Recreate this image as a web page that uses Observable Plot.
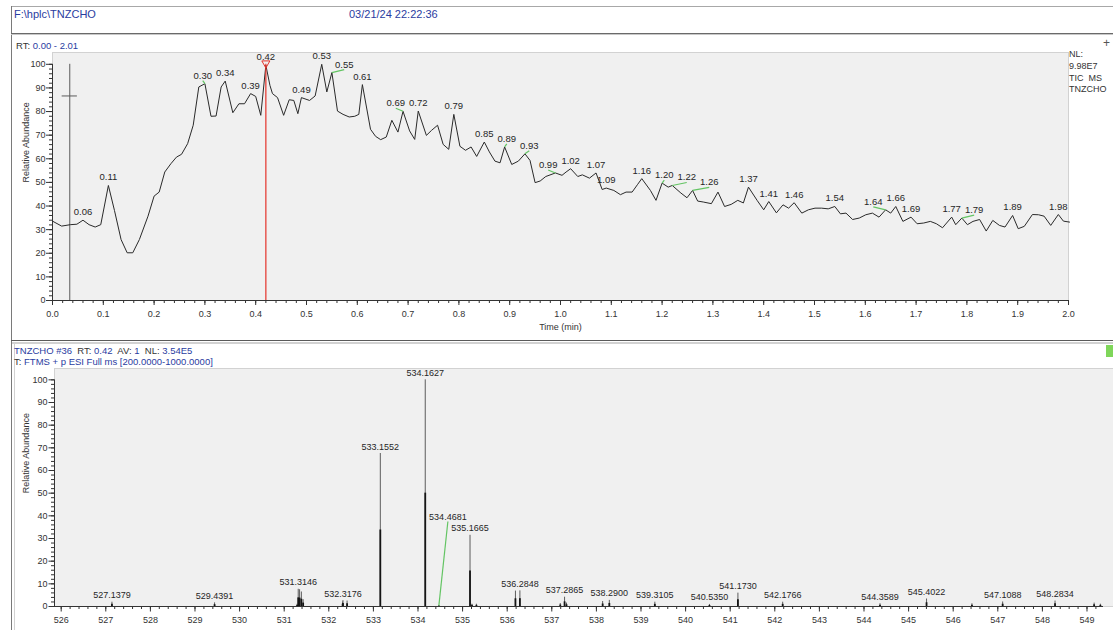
<!DOCTYPE html>
<html>
<head>
<meta charset="utf-8">
<script src="https://cdn.jsdelivr.net/npm/d3@7"></script>
<script src="https://cdn.jsdelivr.net/npm/@observablehq/plot@0.6"></script>
<style>
  html, body { margin: 0; padding: 0; background: #fff; }
  #page { position: relative; width: 1113px; height: 630px; overflow: hidden;
          font-family: "Liberation Sans", Arial, sans-serif; color: #333; }
  #page svg { position: absolute; left: 0; }
  .txt { position: absolute; white-space: pre; line-height: 1; color: #333; }
  .blue { color: #2a3c9f; }
  .rule { position: absolute; }
</style>
</head>
<body>
<div id="page">
  <!-- window frame -->
  <div class="rule" style="left:11px;top:6px;width:1102px;height:1px;background:#a8a8a8"></div>
  <div class="rule" style="left:11px;top:6px;width:1px;height:624px;background:#7a7a7a"></div>
  <div class="rule" style="left:11px;top:33px;width:1102px;height:1px;background:#6a6a6a"></div>
  <div class="rule" style="left:11px;top:34px;width:1102px;height:1px;background:#c8c8c8"></div>
  <div class="rule" style="left:11px;top:340px;width:1102px;height:1px;background:#5a5a5a"></div>
  <div class="rule" style="left:12px;top:342px;width:1101px;height:2px;background:#d2d2d2"></div>
  <div class="rule" style="left:14px;top:344px;width:1px;height:286px;background:#d2d2d2"></div>

  <!-- headers -->
  <div class="txt blue" style="left:14px;top:9px;font-size:11px">F:\hplc\TNZCHO</div>
  <div class="txt blue" style="left:349px;top:9px;font-size:11px">03/21/24 22:22:36</div>
  <div class="txt" style="left:16px;top:40.5px;font-size:9.5px">RT: <span class="blue">0.00 - 2.01</span></div>
  <div class="txt" style="left:1069px;top:49px;font-size:9px;line-height:11.8px">NL:
9.98E7
TIC  MS
TNZCHO</div>
  <div class="txt" style="left:1103px;top:37px;font-size:12px;color:#555">+</div>

  <div class="txt" style="left:14px;top:346px;font-size:9.5px"><span class="blue">TNZCHO #36</span>  RT: <span class="blue">0.42</span>  AV: <span class="blue">1</span>  NL: <span class="blue">3.54E5</span></div>
  <div class="txt" style="left:14px;top:357px;font-size:9.5px">T: <span class="blue">FTMS + p ESI Full ms [200.0000-1000.0000]</span></div>
  <div class="rule" style="left:1106px;top:345px;width:7px;height:12px;background:#7fd65a"></div>
</div>

<script>
// ---------------- Total ion chromatogram ----------------
const rtMin = [
  0.000, 0.018, 0.035, 0.048, 0.060, 0.072, 0.084, 0.095, 0.110, 0.122,
  0.135, 0.147, 0.158, 0.171, 0.188, 0.200, 0.210, 0.221, 0.233, 0.244,
  0.254, 0.266, 0.277, 0.288, 0.300, 0.312, 0.322, 0.332, 0.340, 0.355,
  0.367, 0.378, 0.390, 0.400, 0.410, 0.420, 0.428, 0.433, 0.443, 0.455,
  0.466, 0.475, 0.483, 0.490, 0.506, 0.517, 0.530, 0.540, 0.550, 0.561,
  0.572, 0.584, 0.595, 0.603, 0.610, 0.626, 0.636, 0.646, 0.657, 0.668,
  0.680, 0.690, 0.703, 0.713, 0.720, 0.736, 0.746, 0.758, 0.769, 0.780,
  0.790, 0.802, 0.813, 0.824, 0.835, 0.850, 0.860, 0.871, 0.881, 0.890,
  0.904, 0.917, 0.930, 0.940, 0.950, 0.960, 0.971, 0.990, 1.003, 1.011,
  1.020, 1.034, 1.043, 1.057, 1.070, 1.082, 1.090, 1.105, 1.118, 1.129,
  1.141, 1.152, 1.160, 1.177, 1.188, 1.200, 1.212, 1.220, 1.237, 1.249,
  1.260, 1.270, 1.281, 1.297, 1.310, 1.323, 1.336, 1.349, 1.360, 1.370,
  1.387, 1.400, 1.410, 1.425, 1.438, 1.449, 1.460, 1.475, 1.488, 1.501,
  1.514, 1.527, 1.540, 1.551, 1.562, 1.575, 1.588, 1.601, 1.614, 1.627,
  1.640, 1.650, 1.660, 1.674, 1.690, 1.702, 1.715, 1.728, 1.740, 1.752,
  1.770, 1.778, 1.790, 1.801, 1.812, 1.825, 1.838, 1.851, 1.864, 1.875,
  1.890, 1.901, 1.913, 1.929, 1.941, 1.952, 1.965, 1.980, 1.990, 2.002
];
const ticRelAbundance = [
  33.6, 31.5, 32.1, 32.3, 34.0, 32.1, 31.1, 32.1, 48.7, 38.1,
  25.8, 20.2, 20.2, 25.8, 35.7, 44.2, 45.9, 54.4, 57.9, 60.7,
  61.9, 66.4, 74.2, 90.4, 91.8, 78.0, 78.1, 90.4, 92.9, 79.5,
  83.3, 83.3, 87.6, 86.4, 78.4, 99.6, 91.1, 87.6, 85.9, 78.4,
  85.0, 84.7, 79.1, 85.9, 84.7, 86.6, 100.0, 88.3, 96.5, 80.2,
  78.8, 77.7, 78.0, 78.8, 91.4, 72.5, 69.5, 68.1, 69.2, 76.3,
  71.3, 80.1, 71.8, 68.2, 80.2, 69.9, 72.0, 74.2, 66.1, 64.0,
  78.8, 65.3, 63.6, 65.0, 61.0, 67.1, 62.9, 59.0, 58.3, 65.0,
  57.6, 59.0, 62.1, 59.3, 49.9, 50.6, 52.5, 54.0, 53.0, 54.4,
  55.8, 52.5, 53.2, 51.8, 54.0, 47.0, 47.6, 46.6, 44.8, 45.9,
  45.9, 49.2, 51.6, 46.6, 42.4, 49.7, 48.0, 48.7, 45.5, 43.5,
  46.6, 42.1, 41.7, 41.0, 45.9, 39.8, 40.7, 42.4, 41.3, 48.0,
  42.4, 38.4, 41.9, 37.1, 40.5, 39.1, 41.4, 37.0, 38.4, 39.1,
  39.1, 38.8, 39.8, 36.7, 37.0, 34.3, 34.9, 36.3, 37.0, 35.3,
  38.4, 37.0, 39.8, 33.5, 35.3, 32.5, 32.8, 33.5, 32.5, 30.8,
  35.3, 32.1, 34.9, 32.1, 33.5, 34.3, 29.4, 33.9, 31.8, 31.1,
  36.0, 30.4, 31.4, 36.4, 36.3, 35.7, 31.8, 36.4, 33.6, 33.2
];
// retention times of the annotated apexes
const labeledRT = [
  0.06, 0.11, 0.30, 0.34, 0.39, 0.42, 0.49, 0.53, 0.55, 0.61,
  0.69, 0.72, 0.79, 0.85, 0.89, 0.93, 0.99, 1.02, 1.07, 1.09,
  1.16, 1.20, 1.22, 1.26, 1.37, 1.41, 1.46, 1.54, 1.64, 1.66,
  1.69, 1.77, 1.79, 1.89, 1.98
];
const selectedRT = 0.42;                 // scan shown in the spectrum below
const cursorRT = 0.034, cursorLevel = 86.6, cursorHalfWidth = 0.015;
const rtDomain = [0, 2.0];
const rtMajorTicks = d3.range(0, 21).map(i => i / 10);
const rtMinorTicks = d3.range(0, 101).map(i => i / 50);
const abundanceTicks = d3.range(0, 101, 10);
const abundanceMinorTicks = d3.range(0, 101, 2);
const abundanceDomain = [0, 105];

// ---------------- Mass spectrum, scan #36 ----------------
const mz = [
  527.1379, 529.4391, 531.2900, 531.3146, 531.3450, 531.3850, 531.4250,
  532.3100, 532.3176, 532.4100, 533.1552, 534.1627, 534.4681, 535.1665,
  535.2100, 535.3100, 536.1850, 536.2848, 537.1900, 537.2865, 537.3300,
  538.1400, 538.2900, 539.3105, 540.5350, 541.1730, 542.1766, 544.3589,
  545.4022, 546.4200, 547.1088, 548.2834, 549.1600, 549.3000
];
const msRelAbundance = [
  1.9, 1.6, 1.0, 7.6, 7.4, 6.4, 3.0,
  2.0, 2.6, 2.4, 67.5, 100.0, 0.4, 31.4,
  1.0, 1.0, 6.8, 6.9, 1.3, 4.1, 1.5,
  2.2, 2.7, 1.9, 0.9, 5.9, 1.9, 1.2,
  3.3, 1.2, 2.0, 2.4, 1.5, 1.0
];
const labeledMz = [
  527.1379, 529.4391, 531.3146, 532.3176, 533.1552, 534.1627, 535.1665,
  536.2848, 537.2865, 538.2900, 539.3105, 540.5350, 541.1730, 542.1766,
  544.3589, 545.4022, 547.1088, 548.2834
];
// small peak whose label sits up and to the right on a leader line
const leaderMz = 534.4681, leaderLabelMz = 534.67, leaderLabelLevel = 37.5;
const mzDomain = [525.85, 549.37];
const mzMajorTicks = d3.range(526, 550);
const mzMinorTicks = d3.range(0, 117).map(i => 526 + i / 5);

// ---------------- helpers ----------------
const W = 1113;
const font = "'Liberation Sans', Arial, sans-serif";
const ink = "#333";
const leaderGreen = "#63c463";
const fmtRT = d3.format(".2f"), fmtMz = d3.format(".4f");

// Spread labels that would collide: taller peaks keep their place,
// lower ones slide sideways away from the neighbour they hit.
function placeLabels(items, sx, sy, fontSize, gap) {
  const adv = c => (c === "." ? 0.278 : 0.556) * fontSize;
  const boxes = items.map(d => ({
    ...d, px: sx.apply(d.x), py: sy.apply(d.y),
    w: Array.from(d.text).reduce((s, c) => s + adv(c), 0)
  }));
  boxes.forEach(b => (b.cx = b.px));
  const placed = [];
  for (const b of [...boxes].sort((a, c) => c.y - a.y)) {
    for (let k = 0; k < 8; k++) {
      const hit = placed.find(p => Math.abs(p.py - b.py) < fontSize + 1 &&
        Math.abs(p.cx - b.cx) < (p.w + b.w) / 2 + gap);
      if (!hit) break;
      const dir = b.px >= hit.px ? 1 : -1;
      b.cx = hit.cx + dir * ((hit.w + b.w) / 2 + gap);
    }
    placed.push(b);
  }
  return boxes.map(b => ({
    ...b, lx: sx.invert(b.cx), ly: sy.invert(b.py - 3),
    leader: Math.abs(b.cx - b.px) > 2
  }));
}

const page = document.getElementById("page");

// ---------------- chromatogram panel ----------------
{
  const m = {top: 52, right: 45, bottom: 40, left: 52}, H = 340;
  const sx = Plot.scale({x: {domain: rtDomain, range: [m.left, W - m.right]}});
  const sy = Plot.scale({y: {domain: abundanceDomain, range: [H - m.bottom, m.top]}});
  const trace = rtMin.map((t, i) => ({t, v: ticRelAbundance[i]}));
  const apex = labeledRT.map(rt => {
    const i = d3.minIndex(rtMin, t => Math.abs(t - rt));
    return {x: rtMin[i], y: ticRelAbundance[i], text: fmtRT(rtMin[i])};
  });
  const labels = placeLabels(apex, sx, sy, 9.5, 4);
  const selected = apex.find(d => d.x === selectedRT);

  const chart = Plot.plot({
    width: W, height: H,
    marginTop: m.top, marginRight: m.right, marginBottom: m.bottom, marginLeft: m.left,
    x: {domain: rtDomain, label: null},
    y: {domain: abundanceDomain, label: null},
    style: {fontFamily: font, fontSize: "9px", color: ink, background: "none", overflow: "visible"},
    marks: [
      Plot.frame({fill: "#f0f0f0", stroke: "#d2d2d2"}),
      // axes
      Plot.axisY(abundanceMinorTicks, {anchor: "left", tickSize: 3, tickFormat: () => "", label: null, stroke: ink}),
      Plot.axisY(abundanceTicks, {anchor: "left", tickSize: 6, tickPadding: 1, tickFormat: d3.format("d"), label: null, stroke: ink, fill: ink}),
      Plot.axisX(rtMinorTicks, {anchor: "bottom", tickSize: 3, tickFormat: () => "", label: null, stroke: ink}),
      Plot.axisX(rtMajorTicks, {anchor: "bottom", tickSize: 5, tickPadding: 5.3, tickFormat: d3.format(".1f"), label: null, stroke: ink, fill: ink}),
      Plot.ruleX([rtDomain[0]], {y1: abundanceTicks[0], y2: abundanceTicks.at(-1), stroke: ink}),
      Plot.ruleY([0], {stroke: ink}),
      Plot.text(["Relative Abundance"], {frameAnchor: "left", y: d3.mean(d3.extent(abundanceTicks)), rotate: -90, dx: -26, fontSize: 9, fill: ink}),
      Plot.text(["Time (min)"], {frameAnchor: "bottom", dy: 29, lineAnchor: "bottom", fontSize: 9, fill: ink}),
      // cursor
      Plot.ruleX([cursorRT], {y1: abundanceTicks[0], y2: abundanceTicks.at(-1), stroke: "#5a5a5a"}),
      Plot.ruleY([cursorLevel], {x1: cursorRT - cursorHalfWidth, x2: cursorRT + cursorHalfWidth, stroke: "#5a5a5a"}),
      // trace
      Plot.line(trace, {x: "t", y: "v", stroke: "#2a2a2a", strokeWidth: 1}),
      // selected scan
      Plot.ruleX([selectedRT], {y1: abundanceTicks[0], y2: abundanceTicks.at(-1), stroke: "#e5332a", strokeWidth: 1.2}),
      Plot.dot([selected], {x: "x", y: "y", symbol: "triangle", rotate: 180, r: 3, dy: -2, stroke: "#e5332a", fill: "none", strokeWidth: 1}),
      // peak labels
      Plot.link(labels.filter(d => d.leader), {x1: "x", y1: "y", x2: "lx", y2: "ly", stroke: leaderGreen, strokeWidth: 1.2}),
      Plot.text(labels, {x: "lx", y: "y", text: "text", dy: -5, lineAnchor: "bottom", fontSize: 9.5, fill: "#262626"})
    ]
  });
  chart.style.top = "0px";
  page.prepend(chart);
}

// ---------------- spectrum panel ----------------
{
  const m = {top: 28, right: 10, bottom: 24, left: 54}, H = 290;
  const sx = Plot.scale({x: {domain: mzDomain, range: [m.left, W - m.right]}});
  const sy = Plot.scale({y: {domain: abundanceDomain, range: [H - m.bottom, m.top]}});
  const peaks = mz.map((x, i) => ({x, y: msRelAbundance[i]}));
  const apex = labeledMz.map(v => {
    const i = d3.minIndex(mz, x => Math.abs(x - v));
    return {x: mz[i], y: msRelAbundance[i], text: fmtMz(mz[i])};
  });
  const labels = placeLabels(apex, sx, sy, 9, 3);
  const leadIdx = d3.minIndex(mz, x => Math.abs(x - leaderMz));
  const lead = [{
    x: mz[leadIdx], y: msRelAbundance[leadIdx], text: fmtMz(mz[leadIdx]),
    lx: leaderLabelMz, ly: leaderLabelLevel
  }];

  const chart = Plot.plot({
    width: W, height: H,
    marginTop: m.top, marginRight: m.right, marginBottom: m.bottom, marginLeft: m.left,
    x: {domain: mzDomain, label: null},
    y: {domain: abundanceDomain, label: null},
    style: {fontFamily: font, fontSize: "9px", color: ink, background: "none", overflow: "visible"},
    marks: [
      Plot.frame({fill: "#f0f0f0", stroke: "#d2d2d2", insetRight: -m.right}),
      Plot.axisY(abundanceMinorTicks, {anchor: "left", tickSize: 3, tickFormat: () => "", label: null, stroke: ink}),
      Plot.axisY(abundanceTicks, {anchor: "left", tickSize: 5.5, tickPadding: 1.5, tickFormat: d3.format("d"), label: null, stroke: ink, fill: ink}),
      Plot.axisX(mzMinorTicks, {anchor: "bottom", tickSize: 3, tickFormat: () => "", label: null, stroke: ink}),
      Plot.axisX(mzMajorTicks, {anchor: "bottom", tickSize: 5.5, tickPadding: 4.8, tickFormat: d3.format("d"), label: null, stroke: ink, fill: ink}),
      Plot.ruleX([mzDomain[0]], {y1: abundanceTicks[0], y2: abundanceTicks.at(-1), stroke: ink}),
      Plot.ruleY([0], {stroke: ink}),
      Plot.text(["Relative Abundance"], {frameAnchor: "left", y: d3.mean(d3.extent(abundanceTicks)), rotate: -90, dx: -28, fontSize: 9, fill: ink}),
      // profile sticks: slim full-height line with a heavier lower half
      Plot.ruleX(peaks, {x: "x", y1: 0, y2: "y", stroke: "#5c5c5c", strokeWidth: 1}),
      Plot.ruleX(peaks, {x: "x", y1: 0, y2: d => d.y / 2, stroke: "#151515", strokeWidth: 1.8}),
      // labels
      Plot.link(lead, {x1: "x", y1: "y", x2: "lx", y2: "ly", stroke: leaderGreen, strokeWidth: 1.2}),
      Plot.text(lead, {x: "lx", y: "ly", text: "text", dy: -2, lineAnchor: "bottom", fontSize: 9, fill: "#262626"}),
      Plot.text(labels, {x: "lx", y: "y", text: "text", dy: -4, lineAnchor: "bottom", fontSize: 9, fill: "#262626"})
    ]
  });
  chart.style.top = "340px";
  page.prepend(chart);
}
</script>
</body>
</html>
